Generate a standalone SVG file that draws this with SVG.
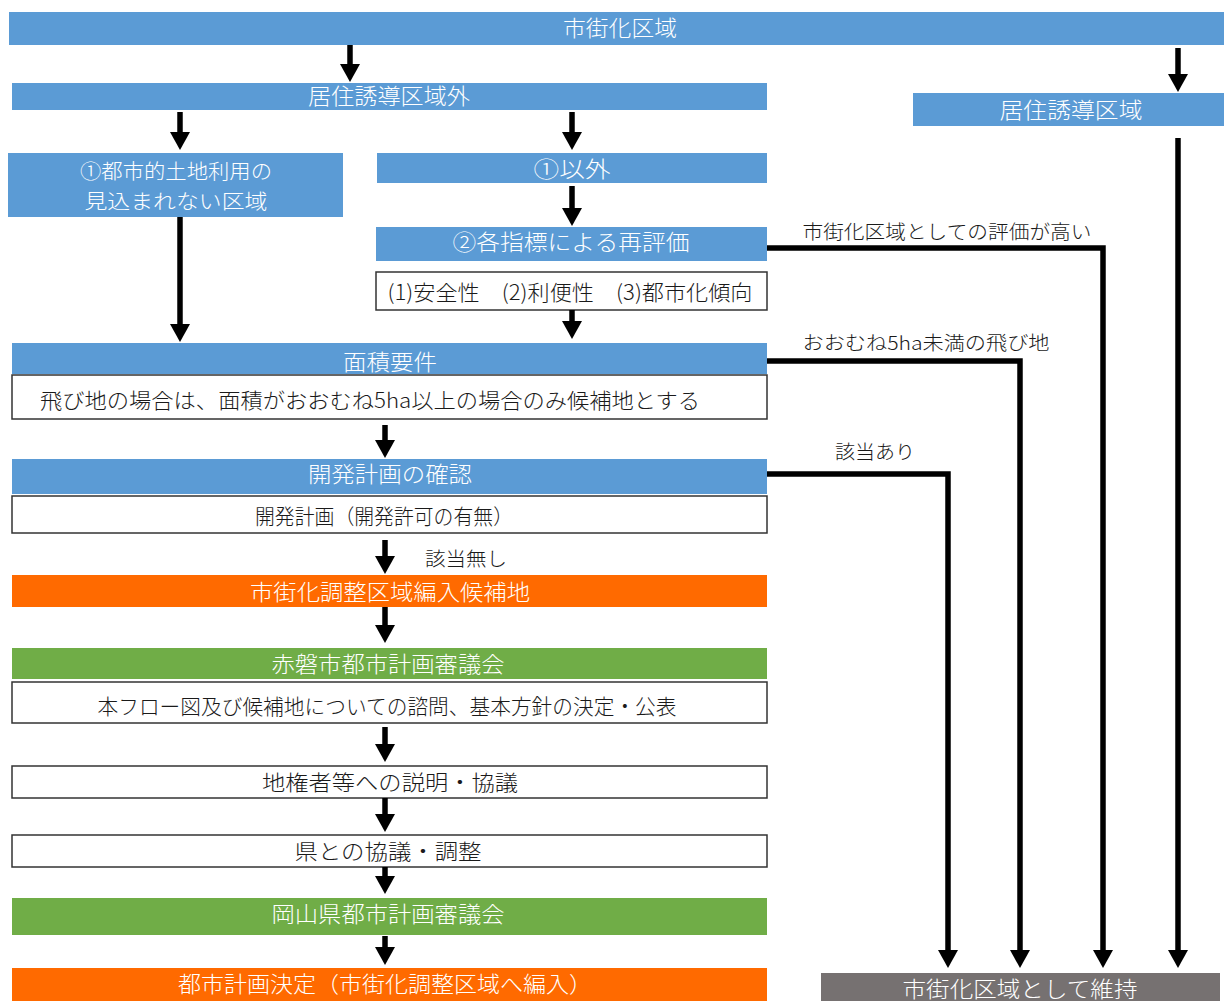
<svg xmlns="http://www.w3.org/2000/svg" width="1224" height="1001" viewBox="0 0 1224 1001">
<style>
.blue{fill:#5B9BD5}
.orange{fill:#FF6A00}
.green{fill:#70AD47}
.gray{fill:#767171}
.wbox{fill:#FFFFFF;stroke:#333333;stroke-width:1.5}
text{font-family:"Noto Sans CJK JP","Noto Sans",sans-serif;text-anchor:middle;font-size:22px;font-weight:300}
.wt{fill:#FFFFFF}
.two{font-size:20px}
.bt{fill:#1A1A1A;font-size:21px}
.lb{fill:#1A1A1A;font-size:19px}
.conn{fill:none;stroke:#000000;stroke-width:5.5;stroke-linejoin:miter}
</style>
<defs>
<marker id="ah" viewBox="0 0 18 20" refX="0" refY="10" markerWidth="18" markerHeight="20" markerUnits="userSpaceOnUse" orient="auto">
<path d="M0,0 L18,10 L0,20 Z" fill="#000000"/>
</marker>
</defs>
<rect x="0" y="0" width="1224" height="1001" fill="#FFFFFF"/>

<g id="n-shigaika">
<rect class="blue" x="9" y="12" width="1215" height="33"/>
<text class="wt" x="620" y="36" textLength="114" lengthAdjust="spacingAndGlyphs">市街化区域</text>
</g>
<g id="n-kyojugai">
<rect class="blue" x="12" y="83" width="755" height="27"/>
<text class="wt" x="389" y="104" textLength="162" lengthAdjust="spacingAndGlyphs">居住誘導区域外</text>
</g>
<g id="n-kyoju">
<rect class="blue" x="913" y="93" width="311" height="33"/>
<text class="wt" x="1071" y="118" textLength="143" lengthAdjust="spacingAndGlyphs">居住誘導区域</text>
</g>
<g id="n-1toshi">
<rect class="blue" x="8" y="153" width="335" height="64"/>
<text class="wt two" x="176" y="179" textLength="192" lengthAdjust="spacingAndGlyphs">①都市的土地利用の</text>
<text class="wt two" x="176" y="209" textLength="183" lengthAdjust="spacingAndGlyphs">見込まれない区域</text>
</g>
<g id="n-1igai">
<rect class="blue" x="377" y="153" width="390" height="30"/>
<text class="wt" x="572" y="177" textLength="77" lengthAdjust="spacingAndGlyphs">①以外</text>
</g>
<g id="n-2saihyoka">
<rect class="blue" x="376" y="227" width="391" height="34"/>
<text class="wt" x="571" y="250" textLength="237" lengthAdjust="spacingAndGlyphs">②各指標による再評価</text>
</g>
<g id="n-shihyo">
<rect class="wbox" x="376" y="272" width="391" height="38"/>
<text class="bt" x="570" y="300" textLength="365" lengthAdjust="spacingAndGlyphs">(1)安全性　(2)利便性　(3)都市化傾向</text>
</g>
<g id="n-menseki">
<rect class="blue" x="12" y="343" width="755" height="31"/>
<text class="wt" x="390" y="370" textLength="94" lengthAdjust="spacingAndGlyphs">面積要件</text>
</g>
<g id="n-tobichi">
<rect class="wbox" x="12" y="375" width="755" height="44"/>
<text class="bt" x="370" y="408" textLength="660" lengthAdjust="spacingAndGlyphs">飛び地の場合は、面積がおおむね5ha以上の場合のみ候補地とする</text>
</g>
<g id="n-kaihatsu">
<rect class="blue" x="12" y="459" width="755" height="35"/>
<text class="wt" x="390" y="482" textLength="164" lengthAdjust="spacingAndGlyphs">開発計画の確認</text>
</g>
<g id="n-kaihatsukeikaku">
<rect class="wbox" x="12" y="496" width="755" height="37"/>
<text class="bt" x="384" y="524" textLength="258" lengthAdjust="spacingAndGlyphs">開発計画（開発許可の有無）</text>
</g>
<g id="n-kohochi">
<rect class="orange" x="12" y="575" width="755" height="32"/>
<text class="wt" x="390" y="600" textLength="280" lengthAdjust="spacingAndGlyphs">市街化調整区域編入候補地</text>
</g>
<g id="n-akaiwa">
<rect class="green" x="12" y="648" width="755" height="31"/>
<text class="wt" x="388" y="672" textLength="233" lengthAdjust="spacingAndGlyphs">赤磐市都市計画審議会</text>
</g>
<g id="n-shimon">
<rect class="wbox" x="12" y="682" width="755" height="41"/>
<text class="bt" x="387" y="714" textLength="579" lengthAdjust="spacingAndGlyphs">本フロー図及び候補地についての諮問、基本方針の決定・公表</text>
</g>
<g id="n-chikensha">
<rect class="wbox" x="12" y="766" width="755" height="32"/>
<text class="bt" x="390" y="790" textLength="256" lengthAdjust="spacingAndGlyphs">地権者等への説明・協議</text>
</g>
<g id="n-ken">
<rect class="wbox" x="12" y="835" width="755" height="32"/>
<text class="bt" x="388" y="859" textLength="187" lengthAdjust="spacingAndGlyphs">県との協議・調整</text>
</g>
<g id="n-okayama">
<rect class="green" x="12" y="898" width="755" height="37"/>
<text class="wt" x="388" y="922" textLength="233" lengthAdjust="spacingAndGlyphs">岡山県都市計画審議会</text>
</g>
<g id="n-kettei">
<rect class="orange" x="12" y="968" width="755" height="33"/>
<text class="wt" x="385" y="992" textLength="414" lengthAdjust="spacingAndGlyphs">都市計画決定（市街化調整区域へ編入）</text>
</g>
<g id="n-iji">
<rect class="gray" x="821" y="973" width="399" height="28"/>
<text class="wt" x="1020" y="997" textLength="235" lengthAdjust="spacingAndGlyphs">市街化区域として維持</text>
</g>

<g id="connectors">
<path class="conn" d="M350,45 V64" marker-end="url(#ah)"/>
<path class="conn" d="M1178,48 V74" marker-end="url(#ah)"/>
<path class="conn" d="M180,112 V132" marker-end="url(#ah)"/>
<path class="conn" d="M572,112 V132" marker-end="url(#ah)"/>
<path class="conn" d="M572,186 V208" marker-end="url(#ah)"/>
<path class="conn" d="M572,310 V321" marker-end="url(#ah)"/>
<path class="conn" d="M180,217 V324" marker-end="url(#ah)"/>
<path class="conn" d="M385,425 V440" marker-end="url(#ah)"/>
<path class="conn" d="M385,540 V556" marker-end="url(#ah)"/>
<path class="conn" d="M385,607 V625" marker-end="url(#ah)"/>
<path class="conn" d="M385,727 V744" marker-end="url(#ah)"/>
<path class="conn" d="M385,798 V814" marker-end="url(#ah)"/>
<path class="conn" d="M385,867 V876" marker-end="url(#ah)"/>
<path class="conn" d="M385,936 V947" marker-end="url(#ah)"/>
<path class="conn" d="M1178,138 V950" marker-end="url(#ah)"/>
<path class="conn" d="M767,248 H1103 V950" marker-end="url(#ah)"/>
<path class="conn" d="M767,361 H1020 V950" marker-end="url(#ah)"/>
<path class="conn" d="M767,474 H948 V950" marker-end="url(#ah)"/>
<text class="lb" x="466" y="566" textLength="82" lengthAdjust="spacingAndGlyphs">該当無し</text>
<text class="lb" x="947" y="239" textLength="289" lengthAdjust="spacingAndGlyphs">市街化区域としての評価が高い</text>
<text class="lb" x="926" y="350" textLength="247" lengthAdjust="spacingAndGlyphs">おおむね5ha未満の飛び地</text>
<text class="lb" x="875" y="459" textLength="80" lengthAdjust="spacingAndGlyphs">該当あり</text>
</g>
</svg>
